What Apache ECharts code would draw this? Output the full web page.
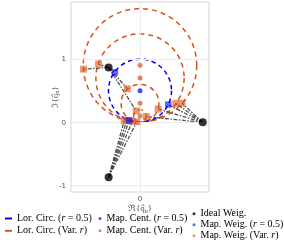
<!DOCTYPE html>
<html><head><meta charset="utf-8">
<script src="https://cdn.jsdelivr.net/npm/echarts@6/dist/echarts.min.js"></script>
<style>html,body{margin:0;padding:0;background:#fff}#c{width:284px;height:240px}</style>
</head><body><div id="c"></div>
<script>
// ---- data ----
const idealRe = [-0.5, 1.0, -0.5];
const idealIm = [0.866, 0.0, -0.866];
const blueCircleIm = [0.5];
const blueCircleR = [0.5];
const orangeCircleIm = [0.9, 0.7, 0.3, 0.1];
const orangeCircleR = [0.9, 0.7, 0.3, 0.1];
const blueCentRe = [0];
const blueCentIm = [0.5];
const orangeCentRe = [0, 0, 0, 0];
const orangeCentIm = [0.9, 0.7, 0.3, 0.1];
const blueMapRe = [-0.40, 0.45, -0.17];
const blueMapIm = [0.79, 0.28, 0.03];
const blueMapIdeal = [0, 1, 2];
const orangeMapRe = [-0.90, -0.66, -0.20, -0.06, 0.67, 0.57, 0.29, 0.10, -0.25, -0.21, -0.12, -0.05];
const orangeMapIm = [0.84, 0.92, 0.53, 0.18, 0.30, 0.30, 0.21, 0.09, 0.03, 0.03, 0.02, 0.01];
const orangeMapIdeal = [0, 0, 0, 0, 1, 1, 1, 1, 2, 2, 2, 2];
const xTicks = [0];
const yTicks = [-1, 0, 1];

const BLUE = '#0000ff', ORANGE = '#D95319';
const SERIF = 'Liberation Serif';

function circleData(im, r) { return im.map((v, i) => [0, v, r[i]]); }
function circleRender(dash) {
  return function (params, api) {
    const c = api.coord([api.value(0), api.value(1)]);
    const s = api.size([api.value(2), api.value(2)]);
    const r = (s[0] + s[1]) / 2;
    return { type: 'circle', shape: { cx: c[0], cy: c[1], r: r },
      style: { fill: null, stroke: api.visual('color'), lineWidth: 1.5, lineDash: dash } };
  };
}
const links = [];
blueMapRe.forEach((x, i) => { const k = blueMapIdeal[i]; links.push({ coords: [[idealRe[k], idealIm[k]], [x, blueMapIm[i]]] }); });
orangeMapRe.forEach((x, i) => { const k = orangeMapIdeal[i]; links.push({ coords: [[idealRe[k], idealIm[k]], [x, orangeMapIm[i]]] }); });

const richLeg = {
  i: { fontStyle: 'italic', fontFamily: SERIF, fontSize: 10, color: '#000', lineHeight: 10 }
};
const fmt = n => n.replace('(r = 0.5)', '({i|r} = 0.5)').replace('(Var. r)', '(Var. {i|r})');
const legBase = { orient: 'vertical', padding: 0, selectedMode: false, formatter: fmt, height: 60,
  textStyle: { fontFamily: SERIF, fontSize: 10, color: '#000', lineHeight: 10, rich: richLeg } };
const nameRich = { sub: { fontSize: 6, fontFamily: SERIF, color: '#555', verticalAlign: 'bottom', padding: [4, 0, 0, 0] } };

const chart = echarts.init(document.getElementById('c'), null, { renderer: 'canvas' });
chart.setOption({
  animation: false,
  grid: { left: 71, right: 75, top: 2, bottom: 48, show: true, borderColor: '#d4d4d4', borderWidth: 1 },
  xAxis: { type: 'value', min: -1.1, max: 1.1,
    axisLine: { show: false }, axisTick: { show: false }, splitLine: { show: false },
    axisLabel: { customValues: xTicks, color: '#555', fontSize: 8, margin: 3, fontFamily: 'Liberation Sans' },
    name: 'ℜ{q̂{sub|n}}', nameLocation: 'middle', nameGap: 12, nameMoveOverlap: false,
    nameTextStyle: { fontFamily: SERIF, fontSize: 9, color: '#555', rich: nameRich } },
  yAxis: { type: 'value', min: -1.1, max: 1.9,
    axisLine: { show: false }, axisTick: { show: false }, splitLine: { show: false },
    axisLabel: { customValues: yTicks, color: '#555', fontSize: 8, margin: 5, fontFamily: 'Liberation Sans' },
    name: 'ℑ{q̂{sub|n}}', nameLocation: 'middle', nameGap: 10.5, nameRotate: 90, nameMoveOverlap: false,
    nameTextStyle: { fontFamily: SERIF, fontSize: 9, color: '#555', rich: nameRich } },
  legend: [
    Object.assign({}, legBase, { left: 5, top: 213.5, itemWidth: 7, itemHeight: 2, itemGap: 2.3,
      data: [{ name: 'Lor. Circ. (r = 0.5)', icon: 'rect' }, { name: 'Lor. Circ. (Var. r)', icon: 'rect' }] }),
    Object.assign({}, legBase, { left: 98.5, top: 213.5, itemWidth: 3, itemHeight: 3, itemGap: 2.3,
      data: [{ name: 'Map. Cent. (r = 0.5)', icon: 'circle' }, { name: 'Map. Cent. (Var. r)', icon: 'circle' }] }),
    Object.assign({}, legBase, { left: 192.5, top: 208.8, itemWidth: 3, itemHeight: 3, itemGap: 1,
      data: [{ name: 'Ideal Weig.', icon: 'circle' }, { name: 'Map. Weig. (r = 0.5)', icon: 'circle' }, { name: 'Map. Weig. (Var. r)', icon: 'circle' }] })
  ],
  series: [
    { type: 'line', name: 'grid', data: [], silent: true, z: 0,
      markLine: { silent: true, symbol: 'none', label: { show: false }, animation: false,
        lineStyle: { color: '#ececec', width: 1, type: 'solid' },
        data: yTicks.map(v => ({ yAxis: v })).concat(xTicks.map(v => ({ xAxis: v }))) } },
    { type: 'custom', name: 'Lor. Circ. (Var. r)', coordinateSystem: 'cartesian2d', itemStyle: { color: ORANGE },
      renderItem: circleRender([5, 4]), data: circleData(orangeCircleIm, orangeCircleR), z: 2, clip: true },
    { type: 'custom', name: 'Lor. Circ. (r = 0.5)', coordinateSystem: 'cartesian2d', itemStyle: { color: BLUE },
      renderItem: circleRender([4.5, 3.5]), data: circleData(blueCircleIm, blueCircleR), z: 3, clip: true },
    { type: 'lines', coordinateSystem: 'cartesian2d', silent: true, z: 4,
      lineStyle: { color: '#404040', width: 1.3, type: [4, 1.5, 1.5, 1.5], opacity: 0.9 }, data: links },
    { type: 'scatter', name: 'Map. Weig. (Var. r)', symbol: 'rect', symbolSize: 7, z: 5,
      itemStyle: { color: ORANGE, opacity: 0.6 }, data: orangeMapRe.map((x, i) => [x, orangeMapIm[i]]) },
    { type: 'scatter', name: 'Map. Weig. (r = 0.5)', symbol: 'rect', symbolSize: 6.5, z: 6,
      itemStyle: { color: BLUE, opacity: 0.6 }, data: blueMapRe.map((x, i) => [x, blueMapIm[i]]) },
    { type: 'scatter', name: 'Map. Cent. (Var. r)', symbol: 'circle', symbolSize: 5, z: 7,
      itemStyle: { color: ORANGE, opacity: 0.7 }, data: orangeCentRe.map((x, i) => [x, orangeCentIm[i]]) },
    { type: 'scatter', name: 'Map. Cent. (r = 0.5)', symbol: 'circle', symbolSize: 5, z: 7,
      itemStyle: { color: BLUE, opacity: 0.7 }, data: blueCentRe.map((x, i) => [x, blueCentIm[i]]) },
    { type: 'scatter', name: 'Ideal Weig.', symbol: 'circle', symbolSize: 8, z: 8,
      itemStyle: { color: '#000' }, data: idealRe.map((x, i) => [x, idealIm[i]]) }
  ]
});
</script></body></html>
